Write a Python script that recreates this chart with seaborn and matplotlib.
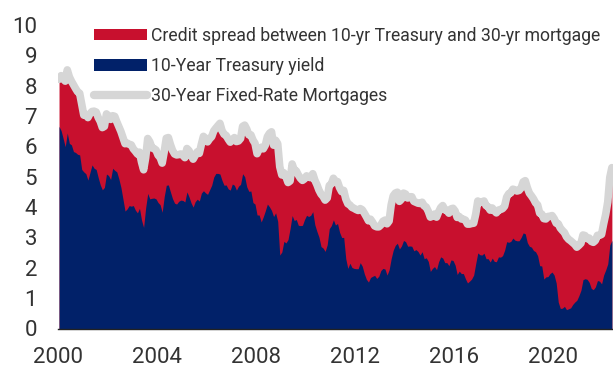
import numpy as np
import pandas as pd
import matplotlib
matplotlib.use("Agg")
import matplotlib.pyplot as plt
import seaborn as sns
from matplotlib.lines import Line2D
from matplotlib.patches import Patch

# Monthly 30-year fixed mortgage rate (%), Jan 2000 - May 2022
mortgage_30yr = [
    8.21, 8.33, 8.24, 8.15, 8.52, 8.29, 8.15, 8.03, 7.91, 7.80, 7.75, 7.38,
    7.03, 7.05, 6.95, 7.08, 7.15, 7.16, 7.13, 6.95, 6.82, 6.62, 6.66, 7.07,
    7.00, 6.89, 7.01, 6.99, 6.81, 6.65, 6.49, 6.29, 6.09, 6.11, 6.07, 6.05,
    5.92, 5.84, 5.75, 5.81, 5.48, 5.23, 5.63, 6.26, 6.15, 5.95, 5.93, 5.88,
    5.71, 5.64, 5.45, 5.83, 6.27, 6.29, 6.06, 5.87, 5.75, 5.72, 5.73, 5.75,
    5.71, 5.63, 5.93, 5.86, 5.72, 5.58, 5.70, 5.82, 5.77, 6.07, 6.33, 6.27,
    6.15, 6.25, 6.32, 6.51, 6.60, 6.68, 6.76, 6.52, 6.40, 6.36, 6.24, 6.14,
    6.22, 6.29, 6.16, 6.18, 6.26, 6.66, 6.70, 6.57, 6.38, 6.38, 6.21, 6.10,
    5.76, 5.92, 5.97, 5.92, 6.04, 6.32, 6.43, 6.48, 6.04, 6.20, 6.09, 5.33,
    5.06, 5.13, 5.00, 4.81, 4.86, 5.42, 5.22, 5.19, 5.06, 4.95, 4.88, 4.93,
    5.03, 4.99, 4.97, 5.10, 4.89, 4.74, 4.56, 4.43, 4.35, 4.23, 4.30, 4.71,
    4.76, 4.95, 4.84, 4.84, 4.64, 4.51, 4.55, 4.27, 4.11, 4.07, 3.99, 3.96,
    3.92, 3.89, 3.95, 3.91, 3.80, 3.68, 3.55, 3.60, 3.50, 3.38, 3.35, 3.35,
    3.41, 3.53, 3.57, 3.45, 3.54, 4.07, 4.37, 4.46, 4.49, 4.19, 4.26, 4.46,
    4.43, 4.30, 4.34, 4.34, 4.19, 4.16, 4.13, 4.12, 4.16, 4.04, 4.00, 3.86,
    3.67, 3.71, 3.77, 3.67, 3.84, 3.98, 4.05, 3.91, 3.89, 3.80, 3.94, 3.96,
    3.87, 3.66, 3.69, 3.61, 3.60, 3.57, 3.44, 3.44, 3.46, 3.47, 3.77, 4.20,
    4.15, 4.17, 4.20, 4.05, 4.01, 3.90, 3.97, 3.88, 3.81, 3.90, 3.92, 3.95,
    4.03, 4.33, 4.44, 4.47, 4.59, 4.57, 4.53, 4.55, 4.63, 4.83, 4.87, 4.64,
    4.46, 4.37, 4.27, 4.14, 4.07, 3.80, 3.77, 3.62, 3.61, 3.69, 3.70, 3.72,
    3.62, 3.47, 3.45, 3.31, 3.23, 3.16, 3.02, 2.94, 2.89, 2.83, 2.77, 2.68,
    2.74, 2.81, 3.08, 3.06, 2.96, 2.98, 2.87, 2.84, 2.90, 3.07, 3.07, 3.10,
    3.45, 3.76, 4.17, 4.98, 5.30,
]

# Monthly 10-year Treasury yield (%), Jan 2000 - May 2022
treasury_10yr = [
    6.66, 6.52, 6.26, 5.99, 6.44, 6.10, 6.05, 5.83, 5.80, 5.74, 5.72, 5.24,
    5.16, 5.10, 4.89, 5.14, 5.39, 5.28, 5.24, 4.97, 4.73, 4.57, 4.65, 5.09,
    5.04, 4.91, 5.28, 5.21, 5.16, 4.93, 4.65, 4.26, 3.87, 3.94, 4.05, 4.03,
    4.05, 3.90, 3.81, 3.96, 3.57, 3.33, 3.98, 4.45, 4.27, 4.29, 4.30, 4.27,
    4.15, 4.08, 3.83, 4.35, 4.72, 4.73, 4.50, 4.28, 4.13, 4.10, 4.19, 4.23,
    4.22, 4.17, 4.50, 4.34, 4.14, 4.00, 4.18, 4.26, 4.20, 4.46, 4.54, 4.47,
    4.42, 4.57, 4.72, 4.99, 5.11, 5.11, 5.09, 4.88, 4.72, 4.73, 4.60, 4.56,
    4.76, 4.72, 4.56, 4.69, 4.75, 5.10, 5.00, 4.67, 4.52, 4.53, 4.15, 4.10,
    3.74, 3.74, 3.51, 3.68, 3.88, 4.10, 4.01, 3.89, 3.69, 3.81, 3.53, 2.42,
    2.52, 2.87, 2.82, 2.93, 3.29, 3.72, 3.56, 3.59, 3.40, 3.39, 3.40, 3.59,
    3.73, 3.69, 3.73, 3.85, 3.42, 3.20, 3.01, 2.70, 2.65, 2.54, 2.76, 3.29,
    3.39, 3.58, 3.41, 3.46, 3.17, 3.00, 3.00, 2.30, 1.98, 2.15, 2.01, 1.98,
    1.97, 1.97, 2.17, 2.05, 1.80, 1.62, 1.53, 1.68, 1.72, 1.75, 1.65, 1.72,
    1.91, 1.98, 1.96, 1.76, 1.93, 2.30, 2.58, 2.74, 2.81, 2.62, 2.72, 2.90,
    2.86, 2.71, 2.72, 2.71, 2.56, 2.60, 2.54, 2.42, 2.53, 2.30, 2.33, 2.21,
    1.88, 1.98, 2.04, 1.94, 2.20, 2.36, 2.32, 2.17, 2.17, 2.07, 2.26, 2.24,
    2.09, 1.78, 1.89, 1.81, 1.81, 1.64, 1.50, 1.56, 1.63, 1.76, 2.14, 2.49,
    2.43, 2.42, 2.48, 2.30, 2.30, 2.19, 2.32, 2.21, 2.20, 2.36, 2.35, 2.40,
    2.58, 2.86, 2.84, 2.87, 2.98, 2.91, 2.89, 2.89, 3.00, 3.15, 3.12, 2.83,
    2.71, 2.68, 2.57, 2.53, 2.40, 2.07, 2.06, 1.63, 1.70, 1.71, 1.81, 1.86,
    1.76, 1.50, 0.87, 0.66, 0.67, 0.73, 0.62, 0.65, 0.68, 0.79, 0.87, 0.93,
    1.08, 1.26, 1.61, 1.64, 1.62, 1.52, 1.32, 1.28, 1.37, 1.58, 1.56, 1.47,
    1.76, 1.93, 2.13, 2.75, 2.90,
]

dates = pd.date_range("2000-01-01", periods=len(mortgage_30yr), freq="MS")
x_ticks = [2000, 2004, 2008, 2012, 2016, 2020]
y_ticks = list(range(0, 11))

labels = {
    "spread": "Credit spread between 10-yr Treasury and 30-yr mortgage",
    "tsy": "10-Year Treasury yield",
    "mort": "30-Year Fixed-Rate Mortgages",
}

RED = "#c8102e"
NAVY = "#012169"
GRAY = "#d6d6d6"
TEXT = "#333333"

df = pd.DataFrame({"date": dates, "mortgage": mortgage_30yr, "treasury": treasury_10yr})
df["t"] = df["date"].dt.year + (df["date"].dt.month - 1) / 12.0 + 1 / 24.0

sns.set_style("white")
plt.rcParams["font.family"] = ["Roboto", "DejaVu Sans"]

fig = plt.figure(figsize=(6.13, 3.68), dpi=100)
ax = fig.add_axes([58 / 613, 39.5 / 368, 1 - 58 / 613, 303.5 / 368])

ax.fill_between(df["t"], 0, df["mortgage"], color=RED, linewidth=0)
ax.fill_between(df["t"], 0, df["treasury"], color=NAVY, linewidth=0)
sns.lineplot(data=df, x="t", y="mortgage", ax=ax, color=GRAY, linewidth=5.5,
             solid_joinstyle="round", solid_capstyle="round")

ax.set_xlim(2000, 2022.42)
ax.set_ylim(0, 10)
ax.set_xticks(x_ticks)
ax.set_xticklabels([str(v) for v in x_ticks])
ax.set_yticks(y_ticks)
ax.set_yticklabels([str(v) for v in y_ticks])
ax.tick_params(axis="both", length=0, labelsize=16, colors=TEXT)
ax.tick_params(axis="x", pad=13)
ax.tick_params(axis="y", pad=15)
ax.set_xlabel("")
ax.set_ylabel("")
for s in ["top", "right", "left"]:
    ax.spines[s].set_visible(False)
ax.spines["bottom"].set_color("#222222")
ax.spines["bottom"].set_linewidth(1.0)

handles = [
    Patch(facecolor=RED, edgecolor="none"),
    Patch(facecolor=NAVY, edgecolor="none"),
    Line2D([0], [0], color=GRAY, linewidth=6, solid_capstyle="round"),
]
leg = ax.legend(handles, [labels["spread"], labels["tsy"], labels["mort"]],
                loc="upper left", bbox_to_anchor=(0.065, 0.994), frameon=False,
                fontsize=12.7, handlelength=3.0, handleheight=0.63,
                handletextpad=0.2, labelspacing=0.69, borderaxespad=0,
                borderpad=0)
for t in leg.get_texts():
    t.set_color(TEXT)

fig.savefig("out.png", dpi=100)
